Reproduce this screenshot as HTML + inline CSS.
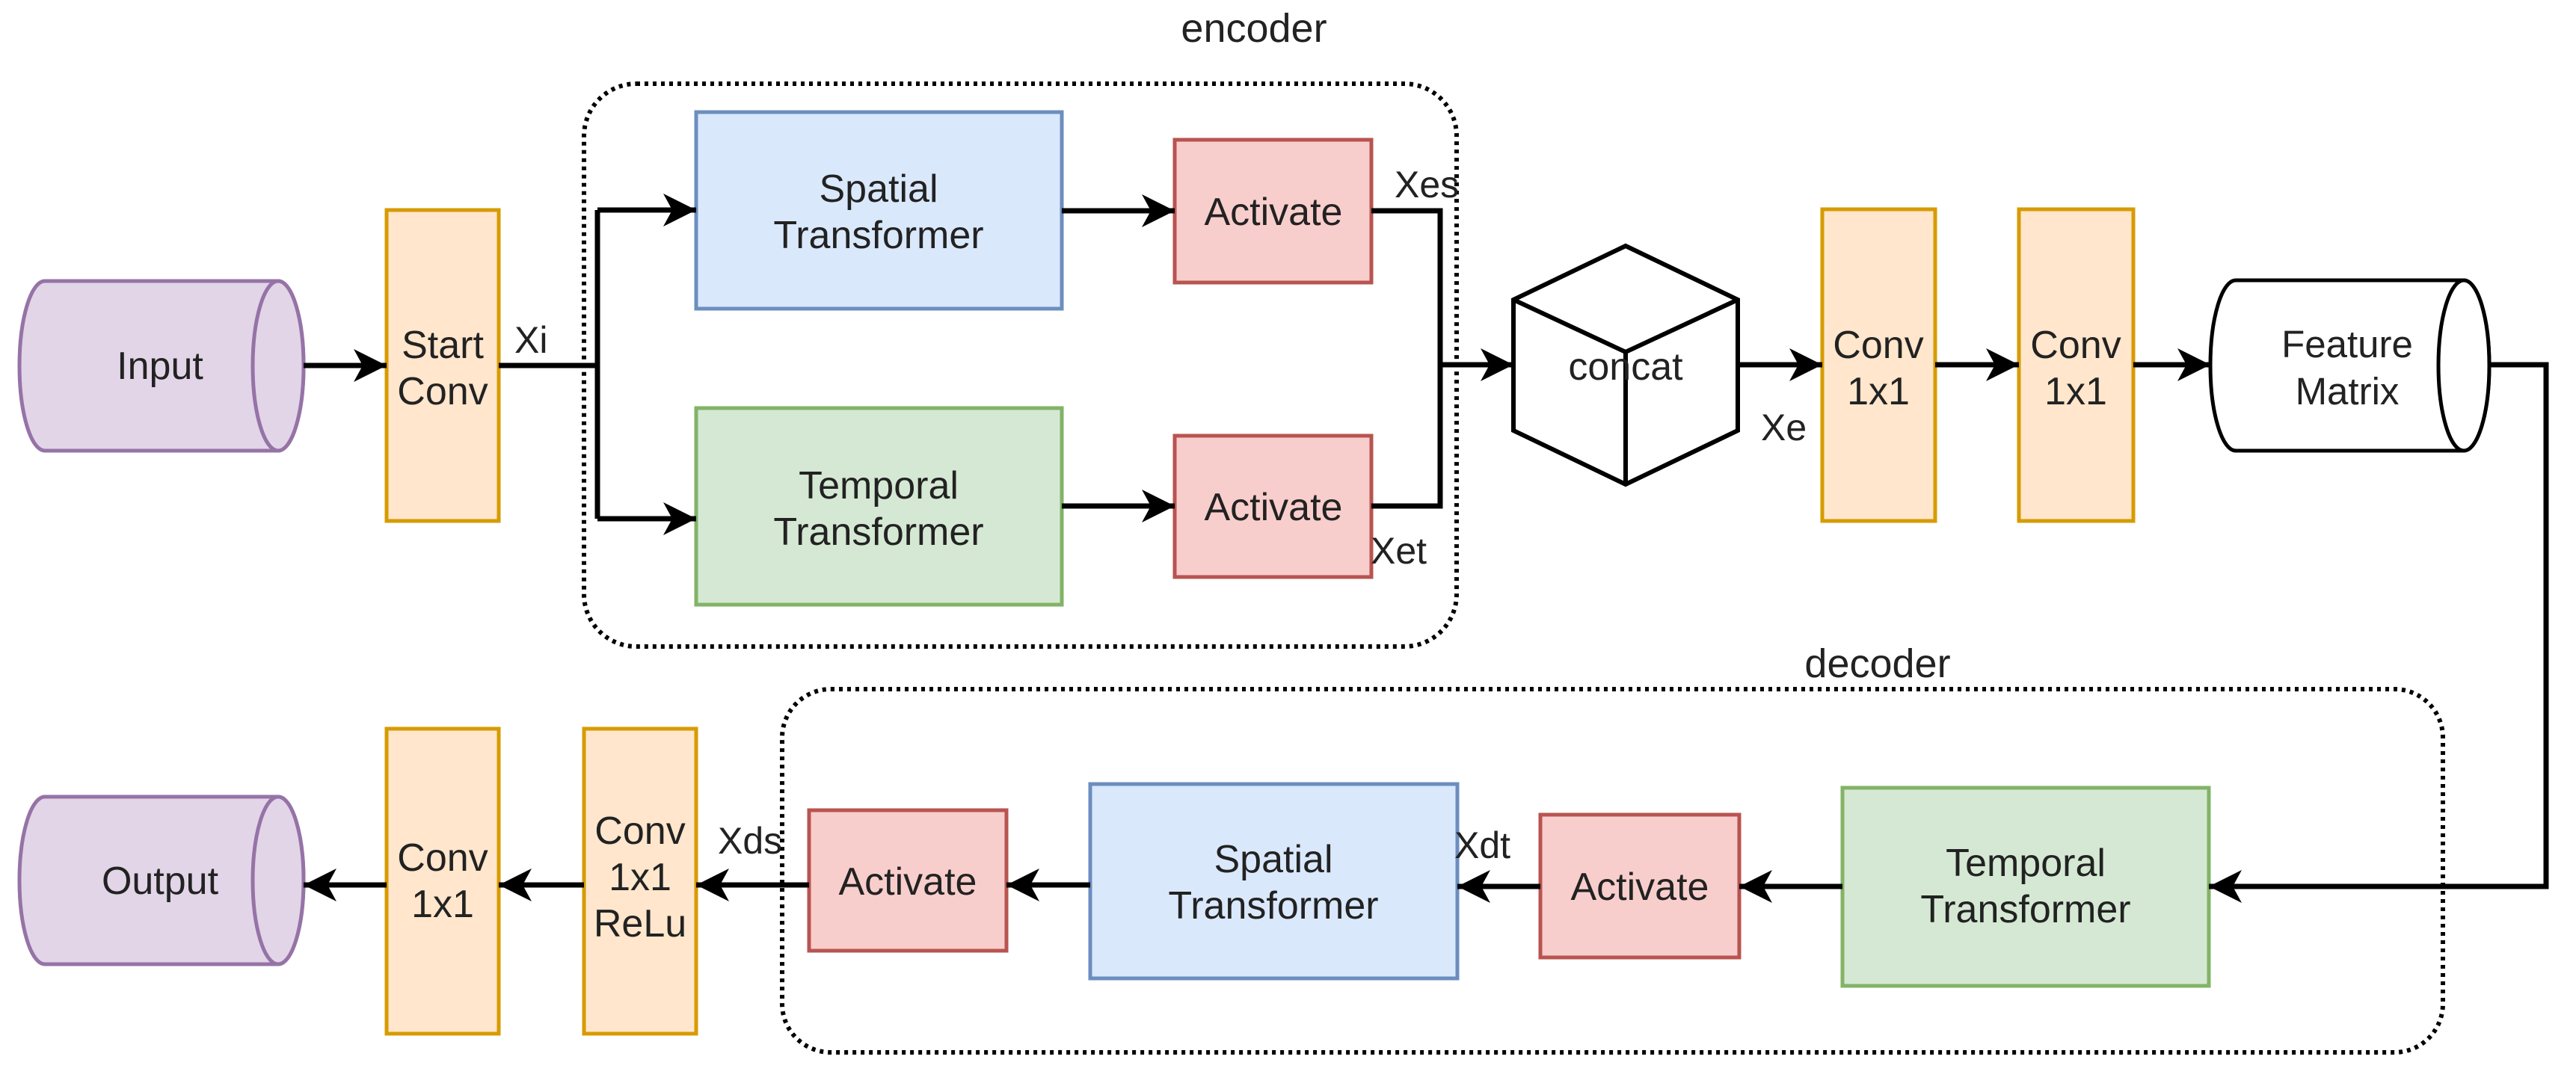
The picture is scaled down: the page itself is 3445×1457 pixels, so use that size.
<!DOCTYPE html>
<html><head><meta charset="utf-8"><style>html,body{margin:0;padding:0;background:#fff}svg{display:block}text{font-family:"Liberation Sans",sans-serif;fill:#222}</style></head>
<body>
<svg width="3445" height="1457" viewBox="0 0 3445 1457" xmlns="http://www.w3.org/2000/svg">
<defs>
<marker id="a" markerUnits="userSpaceOnUse" markerWidth="50" markerHeight="50" refX="44" refY="22" orient="auto">
<path d="M44,22 L0,0 L12,22 L0,44 Z" fill="#000"/>
</marker>
</defs>
<rect x="781" y="112" width="1167" height="753" rx="70" fill="none" stroke="#000" stroke-width="6" stroke-dasharray="5 6"/>
<rect x="1046" y="922" width="2221" height="486" rx="65" fill="none" stroke="#000" stroke-width="6" stroke-dasharray="5 6"/>
<text x="1677" y="56" font-size="54" text-anchor="middle">encoder</text>
<text x="2511" y="906" font-size="54" text-anchor="middle">decoder</text>

<g stroke="#9673a6" stroke-width="5" fill="#e1d5e7">
<path d="M60,376 L372,376 A34,113.5 0 0 1 372,603 L60,603 A34,113.5 0 0 1 60,376 Z"/>
<ellipse cx="372" cy="489.5" rx="34" ry="113.5"/>
<path d="M60,1066 L372,1066 A34,112 0 0 1 372,1290 L60,1290 A34,112 0 0 1 60,1066 Z"/>
<ellipse cx="372" cy="1178" rx="34" ry="112"/>
</g>
<g stroke="#000" stroke-width="5" fill="#fff">
<path d="M2990,375 L3295,375 A34,114 0 0 1 3295,603 L2990,603 A34,114 0 0 1 2990,375 Z"/>
<ellipse cx="3295" cy="489" rx="34" ry="114"/>
</g>
<text x="214" y="507" font-size="52" text-anchor="middle">Input</text>
<text x="214" y="1196" font-size="52" text-anchor="middle">Output</text>
<text x="3139" y="478" font-size="51" text-anchor="middle">Feature</text>
<text x="3139" y="541" font-size="51" text-anchor="middle">Matrix</text>

<g stroke="#d79b00" stroke-width="5" fill="#ffe6cc">
<rect x="517" y="281" width="150" height="416"/>
<rect x="2437" y="280" width="151" height="417"/>
<rect x="2700" y="280" width="153" height="417"/>
<rect x="517" y="975" width="150" height="408"/>
<rect x="781" y="975" width="150" height="408"/>
</g>
<g font-size="52" text-anchor="middle">
<text x="592" y="479">Start</text><text x="592" y="541">Conv</text>
<text x="2512" y="479">Conv</text><text x="2512" y="541">1x1</text>
<text x="2776" y="479">Conv</text><text x="2776" y="541">1x1</text>
<text x="592" y="1165">Conv</text><text x="592" y="1227">1x1</text>
<text x="856" y="1129">Conv</text><text x="856" y="1191">1x1</text><text x="856" y="1253">ReLu</text>
</g>

<g stroke="#6c8ebf" stroke-width="5" fill="#dae8fc">
<rect x="931" y="150" width="489" height="263"/>
<rect x="1458" y="1049" width="491" height="260"/>
</g>
<g stroke="#82b366" stroke-width="5" fill="#d5e8d4">
<rect x="931" y="546" width="489" height="263"/>
<rect x="2464" y="1054" width="490" height="265"/>
</g>
<g stroke="#b85450" stroke-width="5" fill="#f8cecc">
<rect x="1571" y="187" width="263" height="191"/>
<rect x="1571" y="583" width="263" height="189"/>
<rect x="2060" y="1090" width="266" height="191"/>
<rect x="1082" y="1084" width="264" height="188"/>
</g>
<g font-size="52" text-anchor="middle">
<text x="1175" y="270">Spatial</text><text x="1175" y="332">Transformer</text>
<text x="1175" y="667">Temporal</text><text x="1175" y="729">Transformer</text>
<text x="1703" y="301">Activate</text>
<text x="1703" y="696">Activate</text>
<text x="2193" y="1204">Activate</text>
<text x="1214" y="1197">Activate</text>
<text x="1703" y="1167">Spatial</text><text x="1703" y="1229">Transformer</text>
<text x="2709" y="1172">Temporal</text><text x="2709" y="1234">Transformer</text>
</g>

<g stroke="#000" stroke-width="6" fill="#fff" stroke-linejoin="miter">
<path d="M2174,329 L2324,401 L2324,576 L2174,648 L2024,576 L2024,401 Z"/>
<path d="M2024,401 L2174,471 L2324,401 M2174,471 L2174,648" fill="none"/>
</g>
<text x="2174" y="508" font-size="52" text-anchor="middle">concat</text>

<g stroke="#000" stroke-width="7" fill="none">
<line x1="406" y1="489" x2="517" y2="489" marker-end="url(#a)"/>
<polyline points="667,489 799,489"/>
<polyline points="799,281 799,694"/>
<line x1="799" y1="281" x2="931" y2="281" marker-end="url(#a)"/>
<line x1="799" y1="694" x2="931" y2="694" marker-end="url(#a)"/>
<line x1="1420" y1="282" x2="1571" y2="282" marker-end="url(#a)"/>
<line x1="1420" y1="677" x2="1571" y2="677" marker-end="url(#a)"/>
<polyline points="1834,282 1926,282 1926,677 1834,677"/>
<line x1="1926" y1="488" x2="2024" y2="488" marker-end="url(#a)"/>
<line x1="2324" y1="488" x2="2437" y2="488" marker-end="url(#a)"/>
<line x1="2588" y1="488" x2="2700" y2="488" marker-end="url(#a)"/>
<line x1="2853" y1="488" x2="2956" y2="488" marker-end="url(#a)"/>
<polyline points="3329,488 3405,488 3405,1186 3000,1186"/>
<line x1="3010" y1="1186" x2="2954" y2="1186" marker-end="url(#a)"/>
<line x1="2464" y1="1186" x2="2326" y2="1186" marker-end="url(#a)"/>
<line x1="2060" y1="1186" x2="1949" y2="1186" marker-end="url(#a)"/>
<line x1="1458" y1="1184" x2="1346" y2="1184" marker-end="url(#a)"/>
<line x1="1082" y1="1184" x2="931" y2="1184" marker-end="url(#a)"/>
<line x1="781" y1="1184" x2="667" y2="1184" marker-end="url(#a)"/>
<line x1="517" y1="1184" x2="406" y2="1184" marker-end="url(#a)"/>
</g>

<g font-size="50">
<text x="688" y="472">Xi</text>
<text x="1865" y="264">Xes</text>
<text x="1833" y="754">Xet</text>
<text x="2355" y="589">Xe</text>
<text x="1945" y="1148">Xdt</text>
<text x="960" y="1142">Xds</text>
</g>
</svg>
</body></html>
